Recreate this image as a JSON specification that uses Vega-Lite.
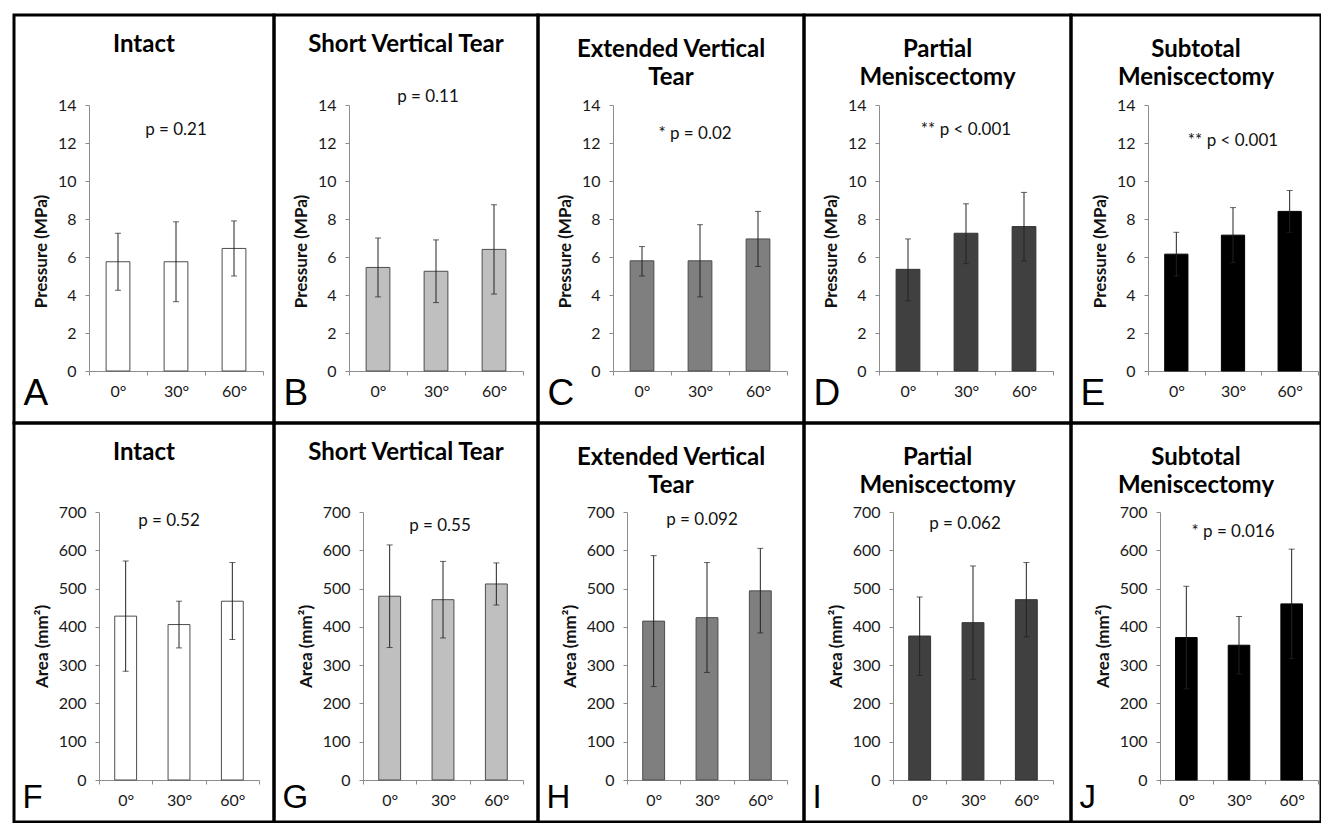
{
"$schema": "https://vega.github.io/schema/vega-lite/v6.json",
"padding": {"left": 12, "top": 13, "right": 0, "bottom": 0},
"columns": 5,
"spacing": 0,
"bounds": "flush",
"align": "each",
"datasets": {
"bars": [
{"panel":"A","angle":"0°","mean":5.75,"lo":4.25,"hi":7.25},
{"panel":"A","angle":"30°","mean":5.75,"lo":3.65,"hi":7.85},
{"panel":"A","angle":"60°","mean":6.45,"lo":5.0,"hi":7.9},
{"panel":"B","angle":"0°","mean":5.45,"lo":3.9,"hi":7.0},
{"panel":"B","angle":"30°","mean":5.25,"lo":3.6,"hi":6.9},
{"panel":"B","angle":"60°","mean":6.4,"lo":4.05,"hi":8.75},
{"panel":"C","angle":"0°","mean":5.8,"lo":5.0,"hi":6.55},
{"panel":"C","angle":"30°","mean":5.8,"lo":3.9,"hi":7.7},
{"panel":"C","angle":"60°","mean":6.95,"lo":5.5,"hi":8.4},
{"panel":"D","angle":"0°","mean":5.35,"lo":3.7,"hi":6.95},
{"panel":"D","angle":"30°","mean":7.25,"lo":5.65,"hi":8.8},
{"panel":"D","angle":"60°","mean":7.6,"lo":5.8,"hi":9.4},
{"panel":"E","angle":"0°","mean":6.15,"lo":5.0,"hi":7.3},
{"panel":"E","angle":"30°","mean":7.15,"lo":5.7,"hi":8.6},
{"panel":"E","angle":"60°","mean":8.4,"lo":7.3,"hi":9.5},
{"panel":"F","angle":"0°","mean":428,"lo":284,"hi":572},
{"panel":"F","angle":"30°","mean":406,"lo":345,"hi":467},
{"panel":"F","angle":"60°","mean":467,"lo":367,"hi":568},
{"panel":"G","angle":"0°","mean":480,"lo":346,"hi":614},
{"panel":"G","angle":"30°","mean":471,"lo":371,"hi":571},
{"panel":"G","angle":"60°","mean":512,"lo":457,"hi":567},
{"panel":"H","angle":"0°","mean":415,"lo":244,"hi":586},
{"panel":"H","angle":"30°","mean":424,"lo":281,"hi":568},
{"panel":"H","angle":"60°","mean":494,"lo":384,"hi":605},
{"panel":"I","angle":"0°","mean":376,"lo":273,"hi":478},
{"panel":"I","angle":"30°","mean":411,"lo":263,"hi":559},
{"panel":"I","angle":"60°","mean":471,"lo":374,"hi":568},
{"panel":"J","angle":"0°","mean":372,"lo":238,"hi":506},
{"panel":"J","angle":"30°","mean":352,"lo":277,"hi":427},
{"panel":"J","angle":"60°","mean":460,"lo":317,"hi":603}
],
"pvals": [
{"panel":"A","label":"p = 0.21"},
{"panel":"B","label":"p = 0.11"},
{"panel":"C","label":"* p = 0.02"},
{"panel":"D","label":"** p < 0.001"},
{"panel":"E","label":"** p < 0.001"},
{"panel":"F","label":"p = 0.52"},
{"panel":"G","label":"p = 0.55"},
{"panel":"H","label":"p = 0.092"},
{"panel":"I","label":"p = 0.062"},
{"panel":"J","label":"* p = 0.016"}
]
},
"concat": [
{"width":260,"height":408,"title":{"text":"Intact","offset":-42},
 "layer":[
  {"data":{"name":"bars"},"transform":[{"filter":"datum.panel === 'A'"}],
   "encoding":{"x":{"field":"angle","type":"nominal","title":"A","scale":{"range":[75,249],"paddingInner":0,"paddingOuter":0},"axis":{"offset":-52}}},
   "layer":[
    {"mark":{"type":"bar","fill":"#ffffff","stroke":"#4d4d4d","strokeWidth":1,"width":{"band":0.41}},
     "encoding":{"y":{"field":"mean","type":"quantitative","title":"Pressure (MPa)","scale":{"domain":[0,14],"range":[356,90],"nice":false},"axis":{"values":[0,2,4,6,8,10,12,14],"offset":-75,"titleY":236}}}},
    {"mark":{"type":"rule","color":"#222"},"encoding":{"y":{"field":"lo","type":"quantitative","title":"Pressure (MPa)"},"y2":{"field":"hi"}}},
    {"mark":{"type":"tick","color":"#222","size":6,"thickness":1},"encoding":{"y":{"field":"lo","type":"quantitative","title":"Pressure (MPa)"}}},
    {"mark":{"type":"tick","color":"#222","size":6,"thickness":1},"encoding":{"y":{"field":"hi","type":"quantitative","title":"Pressure (MPa)"}}}
   ]},
  {"data":{"name":"pvals"},"transform":[{"filter":"datum.panel === 'A'"}],
   "mark":{"type":"text","fontSize":17,"color":"#111","dx":0},
   "encoding":{"x":{"datum":"30°","type":"nominal","title":"A"},"y":{"datum":12.7,"type":"quantitative","title":"Pressure (MPa)"},"text":{"field":"label"}}}
 ]},
{"width":264,"height":408,"title":{"text":"Short Vertical Tear","offset":-42},
 "layer":[
  {"data":{"name":"bars"},"transform":[{"filter":"datum.panel === 'B'"}],
   "encoding":{"x":{"field":"angle","type":"nominal","title":"B","scale":{"range":[75,249],"paddingInner":0,"paddingOuter":0},"axis":{"offset":-52}}},
   "layer":[
    {"mark":{"type":"bar","fill":"#bfbfbf","stroke":"#4d4d4d","strokeWidth":1,"width":{"band":0.41}},
     "encoding":{"y":{"field":"mean","type":"quantitative","title":"Pressure (MPa)","scale":{"domain":[0,14],"range":[356,90],"nice":false},"axis":{"values":[0,2,4,6,8,10,12,14],"offset":-75,"titleY":236}}}},
    {"mark":{"type":"rule","color":"#222"},"encoding":{"y":{"field":"lo","type":"quantitative","title":"Pressure (MPa)"},"y2":{"field":"hi"}}},
    {"mark":{"type":"tick","color":"#222","size":6,"thickness":1},"encoding":{"y":{"field":"lo","type":"quantitative","title":"Pressure (MPa)"}}},
    {"mark":{"type":"tick","color":"#222","size":6,"thickness":1},"encoding":{"y":{"field":"hi","type":"quantitative","title":"Pressure (MPa)"}}}
   ]},
  {"data":{"name":"pvals"},"transform":[{"filter":"datum.panel === 'B'"}],
   "mark":{"type":"text","fontSize":17,"color":"#111","dx":-8},
   "encoding":{"x":{"datum":"30°","type":"nominal","title":"B"},"y":{"datum":14.4,"type":"quantitative","title":"Pressure (MPa)"},"text":{"field":"label"}}}
 ]},
{"width":266,"height":408,"title":{"text":["Extended Vertical","Tear"],"offset":-75},
 "layer":[
  {"data":{"name":"bars"},"transform":[{"filter":"datum.panel === 'C'"}],
   "encoding":{"x":{"field":"angle","type":"nominal","title":"C","scale":{"range":[75,249],"paddingInner":0,"paddingOuter":0},"axis":{"offset":-52}}},
   "layer":[
    {"mark":{"type":"bar","fill":"#7f7f7f","stroke":"#4d4d4d","strokeWidth":1,"width":{"band":0.41}},
     "encoding":{"y":{"field":"mean","type":"quantitative","title":"Pressure (MPa)","scale":{"domain":[0,14],"range":[356,90],"nice":false},"axis":{"values":[0,2,4,6,8,10,12,14],"offset":-75,"titleY":236}}}},
    {"mark":{"type":"rule","color":"#222"},"encoding":{"y":{"field":"lo","type":"quantitative","title":"Pressure (MPa)"},"y2":{"field":"hi"}}},
    {"mark":{"type":"tick","color":"#222","size":6,"thickness":1},"encoding":{"y":{"field":"lo","type":"quantitative","title":"Pressure (MPa)"}}},
    {"mark":{"type":"tick","color":"#222","size":6,"thickness":1},"encoding":{"y":{"field":"hi","type":"quantitative","title":"Pressure (MPa)"}}}
   ]},
  {"data":{"name":"pvals"},"transform":[{"filter":"datum.panel === 'C'"}],
   "mark":{"type":"text","fontSize":17,"color":"#111","dx":-5},
   "encoding":{"x":{"datum":"30°","type":"nominal","title":"C"},"y":{"datum":12.5,"type":"quantitative","title":"Pressure (MPa)"},"text":{"field":"label"}}}
 ]},
{"width":267,"height":408,"title":{"text":["Partial","Meniscectomy"],"offset":-75},
 "layer":[
  {"data":{"name":"bars"},"transform":[{"filter":"datum.panel === 'D'"}],
   "encoding":{"x":{"field":"angle","type":"nominal","title":"D","scale":{"range":[75,249],"paddingInner":0,"paddingOuter":0},"axis":{"offset":-52}}},
   "layer":[
    {"mark":{"type":"bar","fill":"#404040","stroke":"#333333","strokeWidth":1,"width":{"band":0.41}},
     "encoding":{"y":{"field":"mean","type":"quantitative","title":"Pressure (MPa)","scale":{"domain":[0,14],"range":[356,90],"nice":false},"axis":{"values":[0,2,4,6,8,10,12,14],"offset":-75,"titleY":236}}}},
    {"mark":{"type":"rule","color":"#222"},"encoding":{"y":{"field":"lo","type":"quantitative","title":"Pressure (MPa)"},"y2":{"field":"hi"}}},
    {"mark":{"type":"tick","color":"#222","size":6,"thickness":1},"encoding":{"y":{"field":"lo","type":"quantitative","title":"Pressure (MPa)"}}},
    {"mark":{"type":"tick","color":"#222","size":6,"thickness":1},"encoding":{"y":{"field":"hi","type":"quantitative","title":"Pressure (MPa)"}}}
   ]},
  {"data":{"name":"pvals"},"transform":[{"filter":"datum.panel === 'D'"}],
   "mark":{"type":"text","fontSize":17,"color":"#111","dx":0},
   "encoding":{"x":{"datum":"30°","type":"nominal","title":"D"},"y":{"datum":12.7,"type":"quantitative","title":"Pressure (MPa)"},"text":{"field":"label"}}}
 ]},
{"width":250,"height":408,"title":{"text":["Subtotal","Meniscectomy"],"offset":-75},
 "layer":[
  {"data":{"name":"bars"},"transform":[{"filter":"datum.panel === 'E'"}],
   "encoding":{"x":{"field":"angle","type":"nominal","title":"E","scale":{"range":[77,247],"paddingInner":0,"paddingOuter":0},"axis":{"offset":-52}}},
   "layer":[
    {"mark":{"type":"bar","fill":"#000000","stroke":"#000000","strokeWidth":1,"width":{"band":0.41}},
     "encoding":{"y":{"field":"mean","type":"quantitative","title":"Pressure (MPa)","scale":{"domain":[0,14],"range":[356,90],"nice":false},"axis":{"values":[0,2,4,6,8,10,12,14],"offset":-77,"titleY":236}}}},
    {"mark":{"type":"rule","color":"#222"},"encoding":{"y":{"field":"lo","type":"quantitative","title":"Pressure (MPa)"},"y2":{"field":"hi"}}},
    {"mark":{"type":"tick","color":"#222","size":6,"thickness":1},"encoding":{"y":{"field":"lo","type":"quantitative","title":"Pressure (MPa)"}}},
    {"mark":{"type":"tick","color":"#222","size":6,"thickness":1},"encoding":{"y":{"field":"hi","type":"quantitative","title":"Pressure (MPa)"}}}
   ]},
  {"data":{"name":"pvals"},"transform":[{"filter":"datum.panel === 'E'"}],
   "mark":{"type":"text","fontSize":17,"color":"#111","dx":0},
   "encoding":{"x":{"datum":"30°","type":"nominal","title":"E"},"y":{"datum":12.1,"type":"quantitative","title":"Pressure (MPa)"},"text":{"field":"label"}}}
 ]},
{"width":260,"height":399,"title":{"text":"Intact","offset":-42},
 "layer":[
  {"data":{"name":"bars"},"transform":[{"filter":"datum.panel === 'F'"}],
   "encoding":{"x":{"field":"angle","type":"nominal","title":"F","scale":{"range":[85,245],"paddingInner":0,"paddingOuter":0},"axis":{"offset":-42,"titleY":27,"titleX":8,"titleFontSize":33}}},
   "layer":[
    {"mark":{"type":"bar","fill":"#ffffff","stroke":"#4d4d4d","strokeWidth":1,"width":{"band":0.41}},
     "encoding":{"y":{"field":"mean","type":"quantitative","title":"Area (mm²)","scale":{"domain":[0,700],"range":[357,89],"nice":false},"axis":{"values":[0,100,200,300,400,500,600,700],"offset":-85}}}},
    {"mark":{"type":"rule","color":"#222"},"encoding":{"y":{"field":"lo","type":"quantitative","title":"Area (mm²)"},"y2":{"field":"hi"}}},
    {"mark":{"type":"tick","color":"#222","size":6,"thickness":1},"encoding":{"y":{"field":"lo","type":"quantitative","title":"Area (mm²)"}}},
    {"mark":{"type":"tick","color":"#222","size":6,"thickness":1},"encoding":{"y":{"field":"hi","type":"quantitative","title":"Area (mm²)"}}}
   ]},
  {"data":{"name":"pvals"},"transform":[{"filter":"datum.panel === 'F'"}],
   "mark":{"type":"text","fontSize":17,"color":"#111","dx":-10},
   "encoding":{"x":{"datum":"30°","type":"nominal","title":"F"},"y":{"datum":676,"type":"quantitative","title":"Area (mm²)"},"text":{"field":"label"}}}
 ]},
{"width":264,"height":399,"title":{"text":"Short Vertical Tear","offset":-42},
 "layer":[
  {"data":{"name":"bars"},"transform":[{"filter":"datum.panel === 'G'"}],
   "encoding":{"x":{"field":"angle","type":"nominal","title":"G","scale":{"range":[89,249],"paddingInner":0,"paddingOuter":0},"axis":{"offset":-42,"titleY":27,"titleX":8,"titleFontSize":33}}},
   "layer":[
    {"mark":{"type":"bar","fill":"#bfbfbf","stroke":"#4d4d4d","strokeWidth":1,"width":{"band":0.41}},
     "encoding":{"y":{"field":"mean","type":"quantitative","title":"Area (mm²)","scale":{"domain":[0,700],"range":[357,89],"nice":false},"axis":{"values":[0,100,200,300,400,500,600,700],"offset":-89}}}},
    {"mark":{"type":"rule","color":"#222"},"encoding":{"y":{"field":"lo","type":"quantitative","title":"Area (mm²)"},"y2":{"field":"hi"}}},
    {"mark":{"type":"tick","color":"#222","size":6,"thickness":1},"encoding":{"y":{"field":"lo","type":"quantitative","title":"Area (mm²)"}}},
    {"mark":{"type":"tick","color":"#222","size":6,"thickness":1},"encoding":{"y":{"field":"hi","type":"quantitative","title":"Area (mm²)"}}}
   ]},
  {"data":{"name":"pvals"},"transform":[{"filter":"datum.panel === 'G'"}],
   "mark":{"type":"text","fontSize":17,"color":"#111","dx":-3},
   "encoding":{"x":{"datum":"30°","type":"nominal","title":"G"},"y":{"datum":663,"type":"quantitative","title":"Area (mm²)"},"text":{"field":"label"}}}
 ]},
{"width":266,"height":399,"title":{"text":["Extended Vertical","Tear"],"offset":-75},
 "layer":[
  {"data":{"name":"bars"},"transform":[{"filter":"datum.panel === 'H'"}],
   "encoding":{"x":{"field":"angle","type":"nominal","title":"H","scale":{"range":[89,249],"paddingInner":0,"paddingOuter":0},"axis":{"offset":-42,"titleY":27,"titleX":8,"titleFontSize":33}}},
   "layer":[
    {"mark":{"type":"bar","fill":"#7f7f7f","stroke":"#4d4d4d","strokeWidth":1,"width":{"band":0.41}},
     "encoding":{"y":{"field":"mean","type":"quantitative","title":"Area (mm²)","scale":{"domain":[0,700],"range":[357,89],"nice":false},"axis":{"values":[0,100,200,300,400,500,600,700],"offset":-89}}}},
    {"mark":{"type":"rule","color":"#222"},"encoding":{"y":{"field":"lo","type":"quantitative","title":"Area (mm²)"},"y2":{"field":"hi"}}},
    {"mark":{"type":"tick","color":"#222","size":6,"thickness":1},"encoding":{"y":{"field":"lo","type":"quantitative","title":"Area (mm²)"}}},
    {"mark":{"type":"tick","color":"#222","size":6,"thickness":1},"encoding":{"y":{"field":"hi","type":"quantitative","title":"Area (mm²)"}}}
   ]},
  {"data":{"name":"pvals"},"transform":[{"filter":"datum.panel === 'H'"}],
   "mark":{"type":"text","fontSize":17,"color":"#111","dx":-5},
   "encoding":{"x":{"datum":"30°","type":"nominal","title":"H"},"y":{"datum":679,"type":"quantitative","title":"Area (mm²)"},"text":{"field":"label"}}}
 ]},
{"width":267,"height":399,"title":{"text":["Partial","Meniscectomy"],"offset":-75},
 "layer":[
  {"data":{"name":"bars"},"transform":[{"filter":"datum.panel === 'I'"}],
   "encoding":{"x":{"field":"angle","type":"nominal","title":"I","scale":{"range":[89,249],"paddingInner":0,"paddingOuter":0},"axis":{"offset":-42,"titleY":27,"titleX":8,"titleFontSize":33}}},
   "layer":[
    {"mark":{"type":"bar","fill":"#404040","stroke":"#333333","strokeWidth":1,"width":{"band":0.41}},
     "encoding":{"y":{"field":"mean","type":"quantitative","title":"Area (mm²)","scale":{"domain":[0,700],"range":[357,89],"nice":false},"axis":{"values":[0,100,200,300,400,500,600,700],"offset":-89}}}},
    {"mark":{"type":"rule","color":"#222"},"encoding":{"y":{"field":"lo","type":"quantitative","title":"Area (mm²)"},"y2":{"field":"hi"}}},
    {"mark":{"type":"tick","color":"#222","size":6,"thickness":1},"encoding":{"y":{"field":"lo","type":"quantitative","title":"Area (mm²)"}}},
    {"mark":{"type":"tick","color":"#222","size":6,"thickness":1},"encoding":{"y":{"field":"hi","type":"quantitative","title":"Area (mm²)"}}}
   ]},
  {"data":{"name":"pvals"},"transform":[{"filter":"datum.panel === 'I'"}],
   "mark":{"type":"text","fontSize":17,"color":"#111","dx":-8},
   "encoding":{"x":{"datum":"30°","type":"nominal","title":"I"},"y":{"datum":669,"type":"quantitative","title":"Area (mm²)"},"text":{"field":"label"}}}
 ]},
{"width":250,"height":399,"title":{"text":["Subtotal","Meniscectomy"],"offset":-75},
 "layer":[
  {"data":{"name":"bars"},"transform":[{"filter":"datum.panel === 'J'"}],
   "encoding":{"x":{"field":"angle","type":"nominal","title":"J","scale":{"range":[89,247],"paddingInner":0,"paddingOuter":0},"axis":{"offset":-42,"titleY":27,"titleX":8,"titleFontSize":33}}},
   "layer":[
    {"mark":{"type":"bar","fill":"#000000","stroke":"#000000","strokeWidth":1,"width":{"band":0.41}},
     "encoding":{"y":{"field":"mean","type":"quantitative","title":"Area (mm²)","scale":{"domain":[0,700],"range":[357,89],"nice":false},"axis":{"values":[0,100,200,300,400,500,600,700],"offset":-89}}}},
    {"mark":{"type":"rule","color":"#222"},"encoding":{"y":{"field":"lo","type":"quantitative","title":"Area (mm²)"},"y2":{"field":"hi"}}},
    {"mark":{"type":"tick","color":"#222","size":6,"thickness":1},"encoding":{"y":{"field":"lo","type":"quantitative","title":"Area (mm²)"}}},
    {"mark":{"type":"tick","color":"#222","size":6,"thickness":1},"encoding":{"y":{"field":"hi","type":"quantitative","title":"Area (mm²)"}}}
   ]},
  {"data":{"name":"pvals"},"transform":[{"filter":"datum.panel === 'J'"}],
   "mark":{"type":"text","fontSize":17,"color":"#111","dx":-6},
   "encoding":{"x":{"datum":"30°","type":"nominal","title":"J"},"y":{"datum":648,"type":"quantitative","title":"Area (mm²)"},"text":{"field":"label"}}}
 ]}
],
"config": {
 "view": {"stroke": "#000000", "strokeWidth": 3},
 "font": "Lato",
 "text": {"font": "Lato"},
 "axis": {"grid": false, "domainColor": "#8c8c8c", "tickColor": "#8c8c8c", "tickSize": 4, "labelColor": "#1a1a1a", "labelFont": "Lato", "labelFontSize": 16, "titleFont": "Lato", "titleFontSize": 17, "titleFontWeight": "bold", "titleColor": "#111111"},
 "axisX": {"labelAngle": 0, "tickBand": "extent", "labelPadding": 8, "titleFont": "Liberation Sans", "titleFontSize": 37, "titleFontWeight": "normal", "titleAlign": "left", "titleBaseline": "alphabetic", "titleAnchor": "start", "titleX": 9, "titleY": 33, "titleColor": "#000000"},
 "axisY": {"labelPadding": 9, "titlePadding": 7},
 "title": {"font": "Lato", "fontSize": 24, "fontWeight": "bold", "color": "#000000", "baseline": "top", "anchor": "middle", "lineHeight": 28}
}
}
